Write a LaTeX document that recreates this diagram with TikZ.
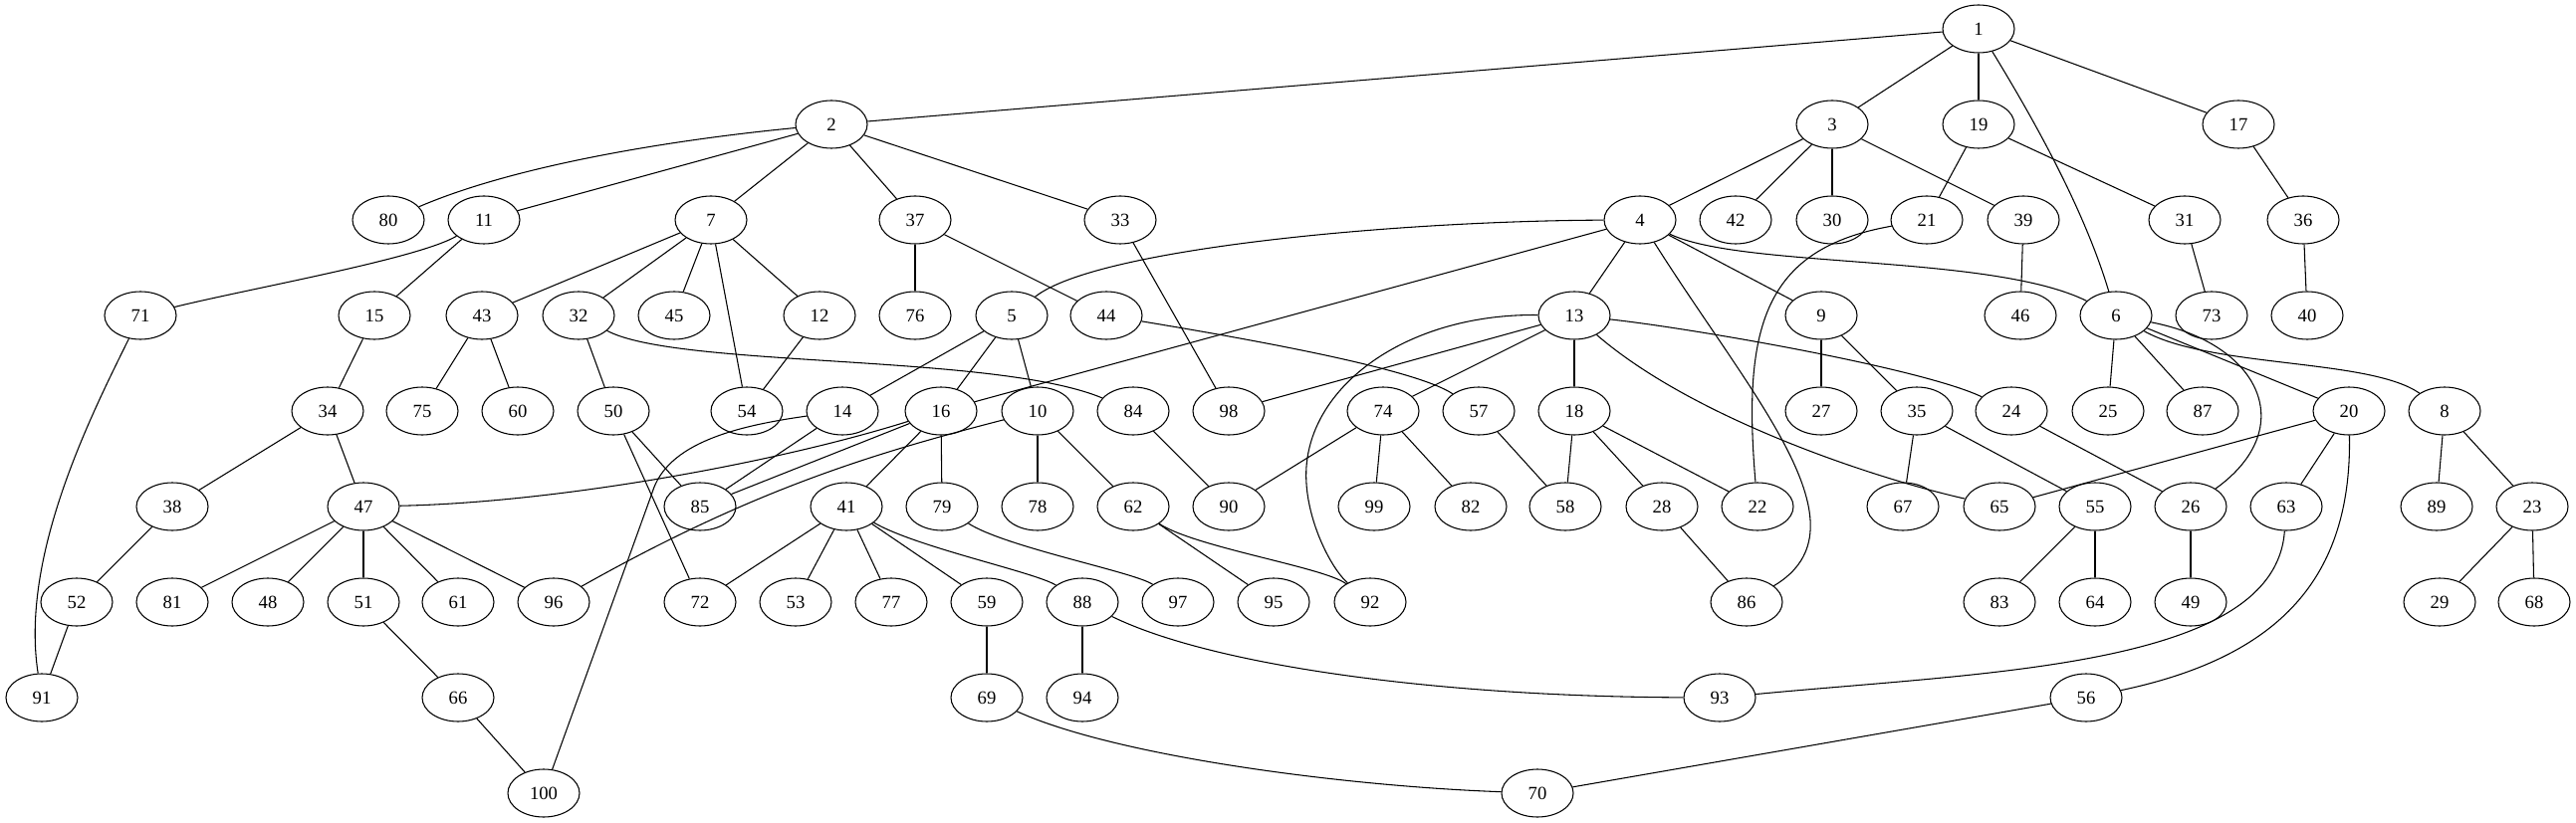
\documentclass[tikz,border=0pt]{standalone}
\usepackage{fontspec}
\setmainfont{Liberation Serif}
\usetikzlibrary{shapes.geometric}

\begin{document}
\begin{tikzpicture}[x=0.75pt, y=-0.75pt]
\tikzset{vertex/.style={ellipse, draw, line width=0.8pt, minimum width=54pt, minimum height=36pt, inner sep=0pt, font=\fontsize{14pt}{16pt}\selectfont},
		link/.style={line width=0.8pt}}
\useasboundingbox (0,0) rectangle (2587,827);
% rank 0
\node[vertex] (n1) at (1987,29) {1};
% rank 1
\node[vertex] (n2) at (835,125) {2};
\node[vertex] (n3) at (1840,125) {3};
\node[vertex] (n19) at (1987,125) {19};
\node[vertex] (n17) at (2248,125) {17};
% rank 2
\node[vertex] (n80) at (390,221) {80};
\node[vertex] (n11) at (486,221) {11};
\node[vertex] (n7) at (714,221) {7};
\node[vertex] (n37) at (919,221) {37};
\node[vertex] (n33) at (1125,221) {33};
\node[vertex] (n4) at (1647,221) {4};
\node[vertex] (n42) at (1743,221) {42};
\node[vertex] (n30) at (1840,221) {30};
\node[vertex] (n21) at (1935,221) {21};
\node[vertex] (n39) at (2032,221) {39};
\node[vertex] (n31) at (2194,221) {31};
\node[vertex] (n36) at (2313,221) {36};
% rank 3
\node[vertex] (n71) at (141,317) {71};
\node[vertex] (n15) at (376,317) {15};
\node[vertex] (n43) at (484,317) {43};
\node[vertex] (n32) at (581,317) {32};
\node[vertex] (n45) at (677,317) {45};
\node[vertex] (n12) at (823,317) {12};
\node[vertex] (n76) at (919,317) {76};
\node[vertex] (n5) at (1016,317) {5};
\node[vertex] (n44) at (1111,317) {44};
\node[vertex] (n13) at (1581,317) {13};
\node[vertex] (n9) at (1829,317) {9};
\node[vertex] (n46) at (2029,317) {46};
\node[vertex] (n6) at (2125,317) {6};
\node[vertex] (n73) at (2221,317) {73};
\node[vertex] (n40) at (2317,317) {40};
% rank 4
\node[vertex] (n34) at (329,413) {34};
\node[vertex] (n75) at (424,413) {75};
\node[vertex] (n60) at (520,413) {60};
\node[vertex] (n50) at (616,413) {50};
\node[vertex] (n54) at (750,413) {54};
\node[vertex] (n14) at (846,413) {14};
\node[vertex] (n16) at (945,413) {16};
\node[vertex] (n10) at (1042,413) {10};
\node[vertex] (n84) at (1138,413) {84};
\node[vertex] (n98) at (1234,413) {98};
\node[vertex] (n74) at (1389,413) {74};
\node[vertex] (n57) at (1485,413) {57};
\node[vertex] (n18) at (1581,413) {18};
\node[vertex] (n27) at (1829,413) {27};
\node[vertex] (n35) at (1925,413) {35};
\node[vertex] (n24) at (2020,413) {24};
\node[vertex] (n25) at (2117,413) {25};
\node[vertex] (n87) at (2212,413) {87};
\node[vertex] (n20) at (2359,413) {20};
\node[vertex] (n8) at (2455,413) {8};
% rank 5
\node[vertex] (n38) at (173,509) {38};
\node[vertex] (n47) at (365,509) {47};
\node[vertex] (n85) at (703,509) {85};
\node[vertex] (n41) at (850,509) {41};
\node[vertex] (n79) at (946,509) {79};
\node[vertex] (n78) at (1042,509) {78};
\node[vertex] (n62) at (1138,509) {62};
\node[vertex] (n90) at (1234,509) {90};
\node[vertex] (n99) at (1380,509) {99};
\node[vertex] (n82) at (1477,509) {82};
\node[vertex] (n58) at (1572,509) {58};
\node[vertex] (n28) at (1669,509) {28};
\node[vertex] (n22) at (1765,509) {22};
\node[vertex] (n67) at (1911,509) {67};
\node[vertex] (n65) at (2008,509) {65};
\node[vertex] (n55) at (2104,509) {55};
\node[vertex] (n26) at (2200,509) {26};
\node[vertex] (n63) at (2296,509) {63};
\node[vertex] (n89) at (2447,509) {89};
\node[vertex] (n23) at (2543,509) {23};
% rank 6
\node[vertex] (n52) at (77,605) {52};
\node[vertex] (n81) at (173,605) {81};
\node[vertex] (n48) at (269,605) {48};
\node[vertex] (n51) at (365,605) {51};
\node[vertex] (n61) at (460,605) {61};
\node[vertex] (n96) at (556,605) {96};
\node[vertex] (n72) at (703,605) {72};
\node[vertex] (n53) at (799,605) {53};
\node[vertex] (n77) at (895,605) {77};
\node[vertex] (n59) at (991,605) {59};
\node[vertex] (n88) at (1087,605) {88};
\node[vertex] (n97) at (1183,605) {97};
\node[vertex] (n95) at (1279,605) {95};
\node[vertex] (n92) at (1376,605) {92};
\node[vertex] (n86) at (1754,605) {86};
\node[vertex] (n83) at (2008,605) {83};
\node[vertex] (n64) at (2104,605) {64};
\node[vertex] (n49) at (2200,605) {49};
\node[vertex] (n29) at (2450,605) {29};
\node[vertex] (n68) at (2545,605) {68};
% rank 7
\node[vertex] (n91) at (42,701) {91};
\node[vertex] (n66) at (460,701) {66};
\node[vertex] (n69) at (991,701) {69};
\node[vertex] (n94) at (1087,701) {94};
\node[vertex] (n93) at (1727,701) {93};
\node[vertex] (n56) at (2095,701) {56};
% rank 8
\node[vertex] (n100) at (546,797) {100};
\node[vertex] (n70) at (1544,797) {70};
% straight edges
\draw[link] (n1) -- (n2); \draw[link] (n1) -- (n3); \draw[link] (n1) -- (n19); \draw[link] (n1) -- (n17);
\draw[link] (n2) -- (n11); \draw[link] (n2) -- (n7); \draw[link] (n2) -- (n37); \draw[link] (n2) -- (n33);
\draw[link] (n3) -- (n4); \draw[link] (n3) -- (n42); \draw[link] (n3) -- (n30); \draw[link] (n3) -- (n39);
\draw[link] (n19) -- (n21); \draw[link] (n19) -- (n31); \draw[link] (n17) -- (n36);
\draw[link] (n11) -- (n15);
\draw[link] (n7) -- (n43); \draw[link] (n7) -- (n32); \draw[link] (n7) -- (n45); \draw[link] (n7) -- (n54); \draw[link] (n7) -- (n12);
\draw[link] (n37) -- (n76); \draw[link] (n37) -- (n44); \draw[link] (n33) -- (n98);
\draw[link] (n4) -- (n16); \draw[link] (n4) -- (n13); \draw[link] (n4) -- (n9);
\draw[link] (n39) -- (n46); \draw[link] (n31) -- (n73); \draw[link] (n36) -- (n40);
\draw[link] (n15) -- (n34); \draw[link] (n43) -- (n75); \draw[link] (n43) -- (n60);
\draw[link] (n32) -- (n50); \draw[link] (n12) -- (n54);
\draw[link] (n5) -- (n14); \draw[link] (n5) -- (n16); \draw[link] (n5) -- (n10);
\draw[link] (n13) -- (n98); \draw[link] (n13) -- (n74); \draw[link] (n13) -- (n18);
\draw[link] (n9) -- (n27); \draw[link] (n9) -- (n35);
\draw[link] (n6) -- (n25); \draw[link] (n6) -- (n87); \draw[link] (n6) -- (n20);
\draw[link] (n34) -- (n38); \draw[link] (n34) -- (n47);
\draw[link] (n50) -- (n85); \draw[link] (n50) -- (n72); \draw[link] (n14) -- (n85);
\draw[link] (n16) -- (n85); \draw[link] (n16) -- (n41); \draw[link] (n16) -- (n79);
\draw[link] (n10) -- (n78); \draw[link] (n10) -- (n62); \draw[link] (n84) -- (n90);
\draw[link] (n74) -- (n90); \draw[link] (n74) -- (n99); \draw[link] (n74) -- (n82);
\draw[link] (n57) -- (n58);
\draw[link] (n18) -- (n58); \draw[link] (n18) -- (n28); \draw[link] (n18) -- (n22);
\draw[link] (n35) -- (n67); \draw[link] (n35) -- (n55); \draw[link] (n24) -- (n26);
\draw[link] (n20) -- (n65); \draw[link] (n20) -- (n63);
\draw[link] (n8) -- (n89); \draw[link] (n8) -- (n23);
\draw[link] (n38) -- (n52);
\draw[link] (n47) -- (n81); \draw[link] (n47) -- (n48); \draw[link] (n47) -- (n51); \draw[link] (n47) -- (n61); \draw[link] (n47) -- (n96);
\draw[link] (n41) -- (n72); \draw[link] (n41) -- (n53); \draw[link] (n41) -- (n77); \draw[link] (n41) -- (n59);
\draw[link] (n62) -- (n95); \draw[link] (n28) -- (n86);
\draw[link] (n55) -- (n83); \draw[link] (n55) -- (n64); \draw[link] (n26) -- (n49);
\draw[link] (n23) -- (n29); \draw[link] (n23) -- (n68);
\draw[link] (n52) -- (n91); \draw[link] (n51) -- (n66); \draw[link] (n59) -- (n69);
\draw[link] (n88) -- (n94); \draw[link] (n66) -- (n100); \draw[link] (n56) -- (n70);
% curved edges
\draw[link] (n1) .. controls (2030,100) and (2090,200) .. (n6);
\draw[link] (n2) .. controls (680,140) and (520,165) .. (n80);
\draw[link] (n11) .. controls (420,260) and (250,290) .. (n71);
\draw[link] (n71) .. controls (90,420) and (20,560) .. (n91);
\draw[link] (n32) .. controls (680,370) and (1000,355) .. (n84);
\draw[link] (n4) .. controls (1400,222) and (1100,250) .. (n5);
\draw[link] (n4) .. controls (1750,270) and (2000,255) .. (n6);
\draw[link] (n4) .. controls (1760,400) and (1880,530) .. (n86);
\draw[link] (n21) .. controls (1770,250) and (1750,330) .. (n22);
\draw[link] (n13) .. controls (1420,315) and (1325,380) .. (1313,460) .. controls (1305,510) and (1335,570) .. (n92);
\draw[link] (n13) .. controls (1700,420) and (1880,480) .. (n65);
\draw[link] (n13) .. controls (1700,330) and (1930,370) .. (n24);
\draw[link] (n44) .. controls (1250,340) and (1420,370) .. (n57);
\draw[link] (n14) .. controls (740,428) and (670,445) .. (655,495) -- (n100);
\draw[link] (n16) .. controls (780,465) and (560,505) .. (n47);
\draw[link] (n10) .. controls (880,455) and (760,490) .. (n96);
\draw[link] (n6) .. controls (2270,345) and (2310,430) .. (n26);
\draw[link] (n6) .. controls (2220,370) and (2380,360) .. (n8);
\draw[link] (n20) .. controls (2362,580) and (2290,660) .. (n56);
\draw[link] (n63) .. controls (2285,670) and (2000,675) .. (n93);
\draw[link] (n88) .. controls (1220,670) and (1450,700) .. (n93);
\draw[link] (n69) .. controls (1120,760) and (1350,790) .. (n70);
\draw[link] (n62) .. controls (1200,550) and (1330,570) .. (n92);
\draw[link] (n79) .. controls (1010,550) and (1140,575) .. (n97);
\draw[link] (n41) .. controls (920,550) and (1040,575) .. (n88);
\end{tikzpicture}
\end{document}
